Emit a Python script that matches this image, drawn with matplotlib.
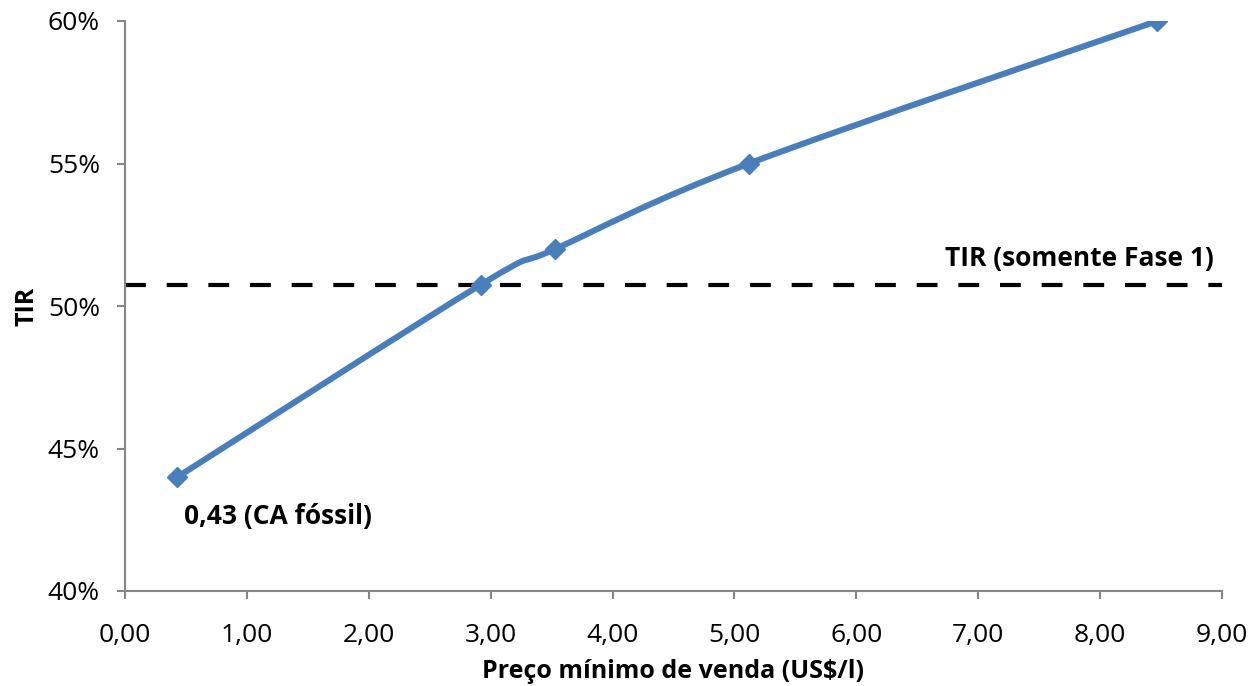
import matplotlib.pyplot as plt
import numpy as np
from matplotlib.path import Path
from matplotlib.patches import PathPatch
from matplotlib.ticker import FuncFormatter

preco = [0.43, 2.92, 3.53, 5.12, 8.47]
tir = [44.0, 50.75, 52.0, 55.0, 60.0]
tir_fase1 = 50.75

plt.rcParams['font.family'] = ['Open Sans', 'DejaVu Sans']

fig = plt.figure(figsize=(12.58, 6.86), dpi=100)
ax = fig.add_axes([125 / 1258, 1 - 591 / 686, (1222 - 125) / 1258, (591 - 21) / 686])

# smoothed line (Catmull-Rom style bezier, like Excel's smoothed line)
pts = np.column_stack([preco, tir])
verts = [pts[0]]
codes = [Path.MOVETO]
for i in range(len(pts) - 1):
    p0 = pts[i - 1] if i > 0 else pts[i]
    p1 = pts[i]
    p2 = pts[i + 1]
    p3 = pts[i + 2] if i + 2 < len(pts) else pts[i + 1]
    c1 = p1 + (p2 - p0) / 6
    c2 = p2 - (p3 - p1) / 6
    verts += [c1, c2, p2]
    codes += [Path.CURVE4] * 3
ax.add_patch(PathPatch(Path(verts, codes), fill=False, edgecolor='#4A7EBB',
                       lw=4.4, capstyle='round', zorder=3))
ax.plot(preco, tir, ls='none', marker='D', ms=10.5, color='#4A7EBB', zorder=4)

ax.axhline(tir_fase1, color='black', lw=3, ls=(0, (5, 5)), zorder=2)
ax.text(8.93, tir_fase1 + 0.45, 'TIR (somente Fase 1)', ha='right', va='bottom',
        fontsize=19, fontweight='bold')
ax.text(0.48, 42.6, '0,43 (CA fóssil)', ha='left', va='center',
        fontsize=19, fontweight='bold')

ax.set_xlim(0, 9)
ax.set_ylim(40, 60)
ax.set_xticks(np.arange(0, 10, 1))
ax.set_yticks(np.arange(40, 61, 5))
ax.xaxis.set_major_formatter(FuncFormatter(lambda v, p: f'{v:.2f}'.replace('.', ',')))
ax.yaxis.set_major_formatter(FuncFormatter(lambda v, p: f'{v:.0f}%'))

for s in ['top', 'right']:
    ax.spines[s].set_visible(False)
for s in ['left', 'bottom']:
    ax.spines[s].set_color('#868686')
    ax.spines[s].set_linewidth(1.5)
ax.tick_params(direction='out', length=6, width=1.5, color='#868686',
               labelsize=19)
ax.tick_params(axis='x', pad=17)
ax.tick_params(axis='y', pad=12)

ax.set_xlabel('Preço mínimo de venda (US$/l)', fontsize=18, fontweight='bold', labelpad=8)
ax.set_ylabel('TIR', fontsize=18, fontweight='bold', labelpad=6)

fig.savefig('out.png', dpi=100)
